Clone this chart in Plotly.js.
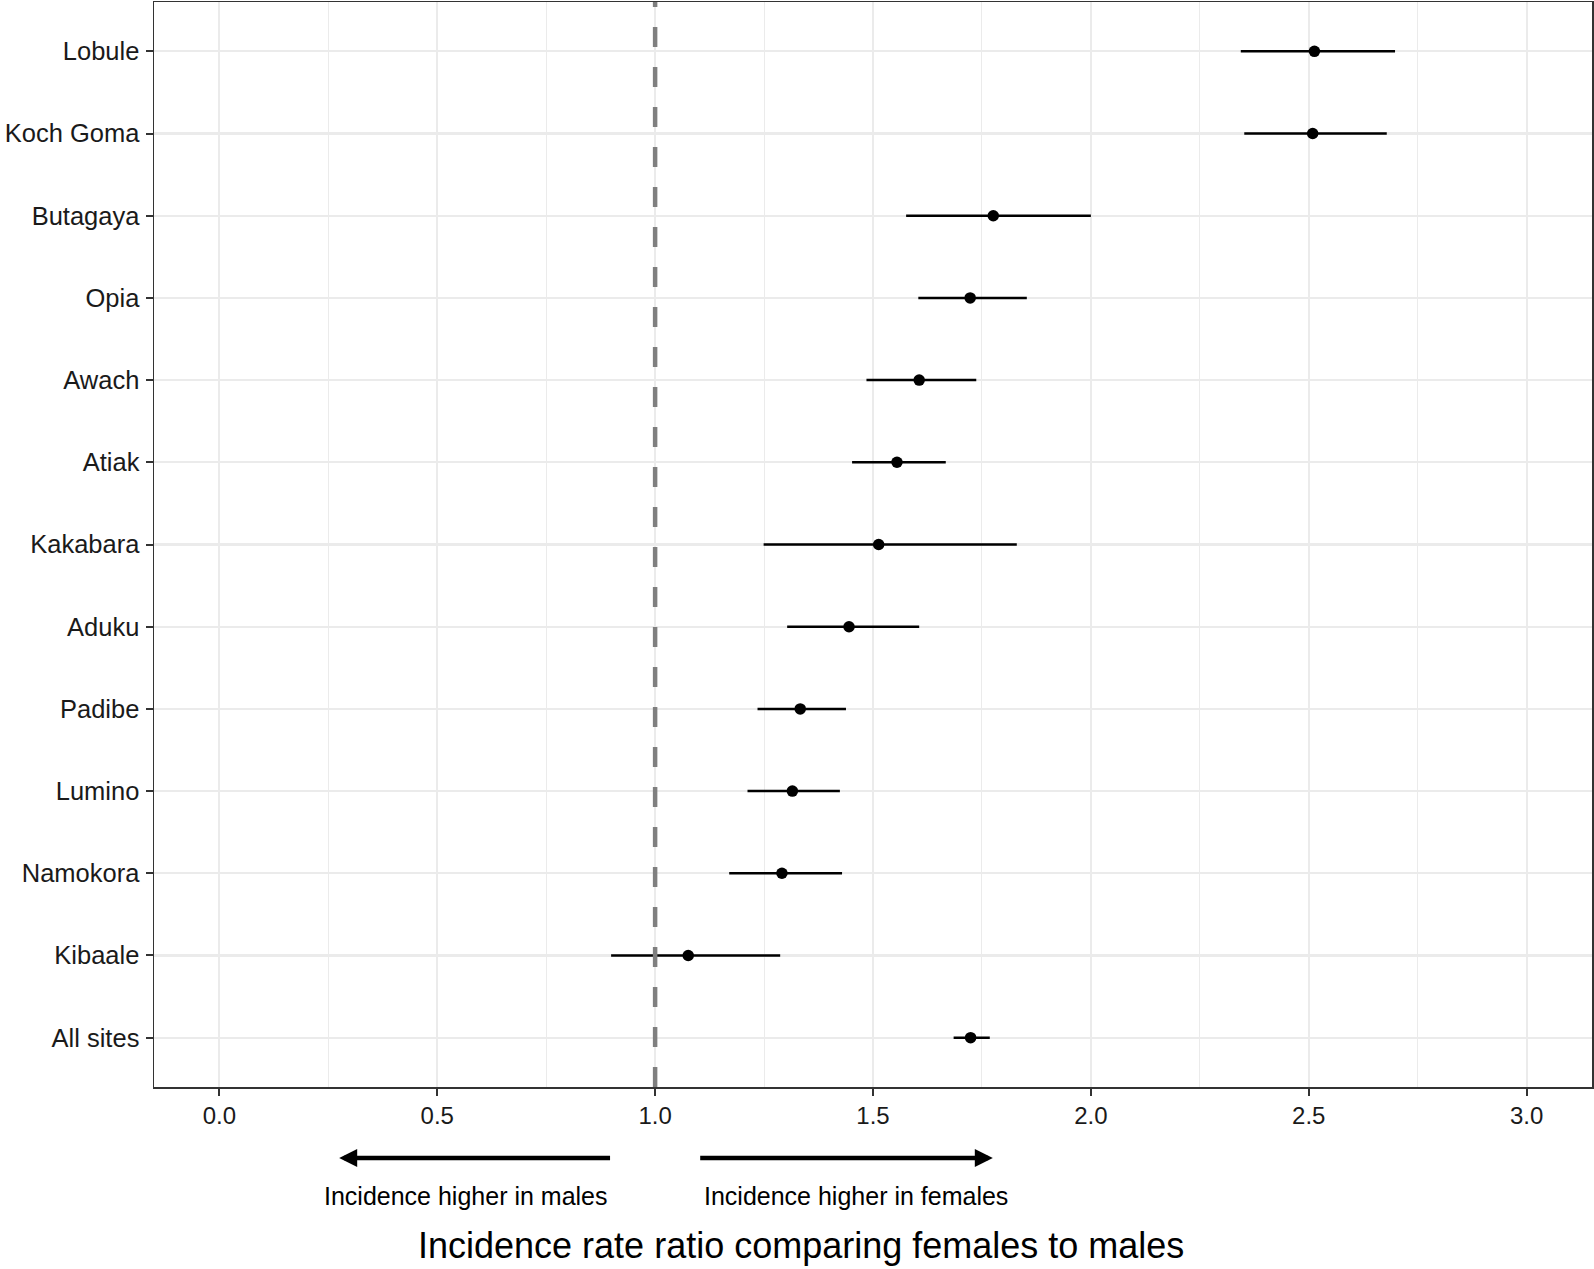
<!DOCTYPE html>
<html>
<head>
<meta charset="utf-8">
<script src="https://cdn.plot.ly/plotly-3.0.1.min.js"></script>
<style>
  html, body { margin: 0; padding: 0; background: #ffffff; }
  #chart { width: 1594px; height: 1269px; }
</style>
</head>
<body>
<div id="chart"></div>
<script>
// ---- Data ----
const sites = ["Lobule", "Koch Goma", "Butagaya", "Opia", "Awach", "Atiak", "Kakabara",
               "Aduku", "Padibe", "Lumino", "Namokora", "Kibaale", "All sites"];
const irr   = [2.513, 2.509, 1.776, 1.723, 1.606, 1.555, 1.513, 1.445, 1.333, 1.315, 1.291, 1.076, 1.724];
const lower = [2.344, 2.352, 1.576, 1.604, 1.485, 1.452, 1.249, 1.303, 1.235, 1.212, 1.170, 0.899, 1.685];
const upper = [2.698, 2.679, 2.000, 1.853, 1.737, 1.667, 1.830, 1.606, 1.438, 1.424, 1.429, 1.287, 1.768];

const xTickVals = [0, 0.5, 1, 1.5, 2, 2.5, 3];
const xTickText = ["0.0", "0.5", "1.0", "1.5", "2.0", "2.5", "3.0"];

const referenceLine = 1;   // IRR = 1 (no difference)

// Arrow annotations below the axis (data units)
const arrowMales   = { from: 0.9, to: 0.275, labelX: 0.565, label: "Incidence higher in males" };
const arrowFemales = { from: 1.1, to: 1.775, labelX: 1.46,  label: "Incidence higher in females" };

const xTitle = "Incidence rate ratio comparing females to males";

// ---- Chart ----
const FONT = "Liberation Sans, Arial, Helvetica, sans-serif";

const trace = {
  type: "scatter",
  mode: "markers",
  x: irr,
  y: sites,
  marker: { color: "#000000", size: 11.5 },
  error_x: {
    type: "data",
    symmetric: false,
    array: upper.map((u, i) => u - irr[i]),
    arrayminus: lower.map((l, i) => irr[i] - l),
    color: "#000000",
    thickness: 2.5,
    width: 0
  },
  hoverinfo: "x+y",
  showlegend: false
};

const arrowY = -0.0654;
const labelY = -0.1001;
const titleY = -0.1465;

function arrowAnn(a) {
  return {
    xref: "x", yref: "paper",
    x: a.to, y: arrowY,
    axref: "x", ayref: "pixel",
    ax: a.from, ay: 0,
    showarrow: true, arrowhead: 2, arrowsize: 0.8, arrowwidth: 4.5,
    arrowcolor: "#000000", text: ""
  };
}
function labelAnn(a) {
  return {
    xref: "x", yref: "paper",
    x: a.labelX, y: labelY,
    xanchor: "center", yanchor: "middle",
    showarrow: false, text: a.label,
    font: { family: FONT, size: 25, color: "#000000" }
  };
}

const layout = {
  width: 1594, height: 1269,
  margin: { l: 154, r: 2, t: 2, b: 182 },
  paper_bgcolor: "#ffffff",
  plot_bgcolor: "#ffffff",
  font: { family: FONT, color: "#1a1a1a" },
  xaxis: {
    range: [-0.15, 3.15],
    tickvals: xTickVals,
    ticktext: xTickText,
    ticks: "outside", ticklen: 7, tickwidth: 2, tickcolor: "#333333",
    tickfont: { family: FONT, size: 24, color: "#1a1a1a" },
    showgrid: true, gridcolor: "#ebebeb", gridwidth: 2,
    minor: { dtick: 0.25, tick0: 0, showgrid: true, gridcolor: "#ebebeb", gridwidth: 1, ticks: "" },
    zeroline: false,
    showline: true, mirror: true, linecolor: "#333333", linewidth: 1.5,
    automargin: false
  },
  yaxis: {
    type: "category",
    categoryorder: "array",
    categoryarray: sites,
    range: [12.6, -0.6],
    ticks: "outside", ticklen: 7, tickwidth: 2, tickcolor: "#333333",
    ticklabelstandoff: 1,
    tickfont: { family: FONT, size: 25.5, color: "#1a1a1a" },
    showgrid: true, gridcolor: "#ebebeb", gridwidth: 2.2,
    zeroline: false,
    showline: true, mirror: true, linecolor: "#333333", linewidth: 1.5,
    automargin: false
  },
  shapes: [{
    type: "line", layer: "above",
    xref: "x", yref: "paper",
    x0: referenceLine, x1: referenceLine, y0: 0, y1: 1,
    line: { color: "#7f7f7f", width: 4.5, dash: "20px,20px" }
  }],
  annotations: [
    arrowAnn(arrowMales), arrowAnn(arrowFemales),
    labelAnn(arrowMales), labelAnn(arrowFemales),
    {
      xref: "paper", yref: "paper",
      x: 0.45, y: titleY,
      xanchor: "center", yanchor: "middle",
      showarrow: false, text: xTitle,
      font: { family: FONT, size: 36, color: "#000000" }
    }
  ]
};

Plotly.newPlot("chart", [trace], layout, { displayModeBar: false, staticPlot: true });
</script>
</body>
</html>
